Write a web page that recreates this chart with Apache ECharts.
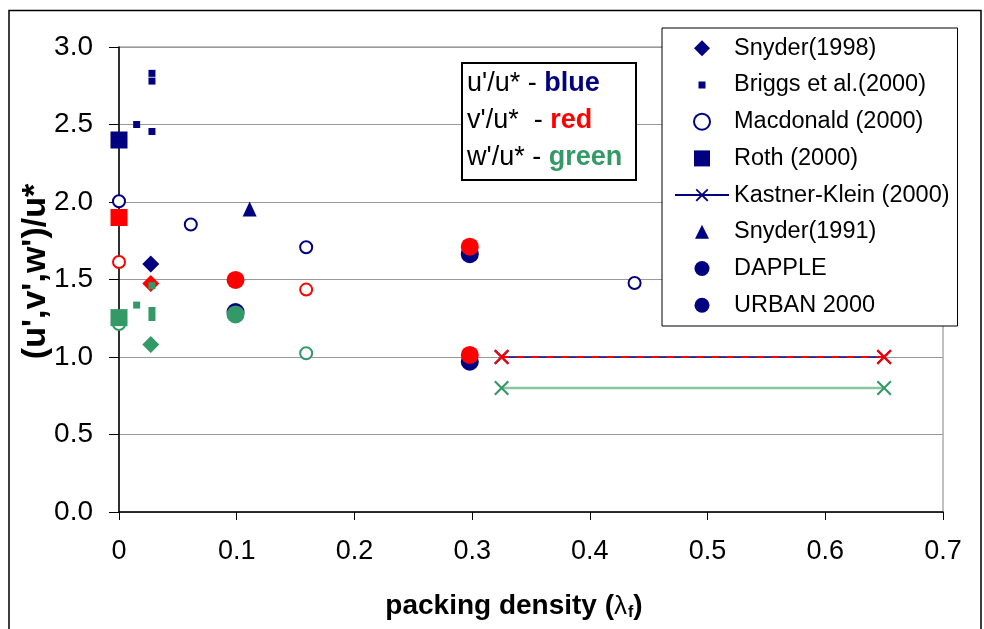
<!DOCTYPE html>
<html><head><meta charset="utf-8">
<script src="https://cdn.jsdelivr.net/npm/echarts@6/dist/echarts.min.js"></script>
<style>html,body{margin:0;padding:0;background:#fff;}#c{width:984px;height:629px;}</style>
</head><body><div id="c"></div>
<script>
// ---- data (x = packing density, y = normalized turbulence) ----
const xTickLabels = ['0', '0.1', '0.2', '0.3', '0.4', '0.5', '0.6', '0.7'];
const yTickLabels = ['0.0', '0.5', '1.0', '1.5', '2.0', '2.5', '3.0'];
const legendNames = ['Snyder(1998)', 'Briggs et al.(2000)', 'Macdonald (2000)', 'Roth (2000)',
  'Kastner-Klein (2000)', 'Snyder(1991)', 'DAPPLE', 'URBAN 2000'];

const snyder1998_u = [[0.027, 1.60]];
const snyder1998_v = [[0.027, 1.475]];
const snyder1998_w = [[0.027, 1.08]];
const briggs_u = [[0.028, 2.83], [0.028, 2.78], [0.015, 2.50], [0.028, 2.455]];
const briggs_w = [[0.028, 1.46], [0.015, 1.335], [0.028, 1.30], [0.028, 1.255]];
const macdonald_u = [[0, 2.005], [0.061, 1.855], [0.159, 1.708], [0.438, 1.477]];
const macdonald_v = [[0, 1.613], [0.159, 1.435]];
const macdonald_w = [[0, 1.213], [0.159, 1.024]];
const roth_u = [[0, 2.40]];
const roth_v = [[0, 1.90]];
const roth_w = [[0, 1.254]];
const kastner_u = [[0.325, 1.0], [0.65, 1.0]];
const kastner_v = [[0.325, 1.0], [0.65, 1.0]];
const kastner_w = [[0.325, 0.80], [0.65, 0.80]];
const snyder1991_u = [[0.111, 1.955]];
const dapple_u = [[0.298, 1.663], [0.298, 0.97]];
const dapple_v = [[0.298, 1.712], [0.298, 1.013]];
const urban_u = [[0.099, 1.29]];
const urban_v = [[0.099, 1.497]];
const urban_w = [[0.099, 1.275]];

// ---- styling ----
const BLUE = '#000080', RED = '#FF0000', GREEN = '#339966';
const FONT = '"Liberation Sans", Arial, sans-serif';
const XSYM = 'path://M2,0 L10,8 L18,0 L20,2 L12,10 L20,18 L18,20 L10,12 L2,20 L0,18 L8,10 L0,2 Z';
// legend icons padded to the 54x16 legend item box so they are not stretched
const LG_DIAMOND = 'path://M0,0M54,16M27,-0.5L35.5,8L27,16.5L18.5,8Z';
const LG_SMALLSQ = 'path://M0,0M54,16M23.5,4.5L30.5,4.5L30.5,11.5L23.5,11.5Z';
const LG_SQUARE = 'path://M0,0M54,16M18.5,-0.5L35.5,-0.5L35.5,16.5L18.5,16.5Z';
const LG_TRIANGLE = 'path://M0,0M54,16M27,1L34,15L20,15Z';
const LG_DOT = 'path://M0,0M54,16M27,0.5A7.5,7.5 0 1 1 26.99,0.5Z';

function sc(name, data, symbol, size, color) {
  return { type: 'scatter', name: name, data: data, symbol: symbol, symbolSize: size,
    itemStyle: { color: color, opacity: 1 }, emphasis: { disabled: true } };
}
function ln(name, data, color, lineStyle) {
  return { type: 'line', name: name, data: data, symbol: XSYM, symbolSize: 15, showSymbol: true,
    itemStyle: { color: color }, lineStyle: lineStyle, emphasis: { disabled: true } };
}

const series = [
  // u'/u*  (blue) - these carry the legend styles
  sc(legendNames[0], snyder1998_u, 'diamond', 17, BLUE),
  sc(legendNames[1], briggs_u, 'rect', 7, BLUE),
  sc(legendNames[2], macdonald_u, 'emptyCircle', 12, BLUE),
  sc(legendNames[3], roth_u, 'rect', 17, BLUE),
  ln(legendNames[4], kastner_u, BLUE, { color: BLUE, width: 1.5 }),
  sc(legendNames[5], snyder1991_u, 'triangle', [14, 15], BLUE),
  sc(legendNames[6], dapple_u, 'circle', 18, BLUE),
  sc(legendNames[7], urban_u, 'circle', 18, BLUE),
  // v'/u* (red)
  sc(legendNames[0], snyder1998_v, 'diamond', 17, RED),
  sc(legendNames[2], macdonald_v, 'emptyCircle', 12, RED),
  sc(legendNames[3], roth_v, 'rect', 17, RED),
  ln(legendNames[4], kastner_v, RED, { color: RED, width: 2, type: [7, 8] }),
  sc(legendNames[6], dapple_v, 'circle', 18, RED),
  sc(legendNames[7], urban_v, 'circle', 18, RED),
  // w'/u* (green)
  sc(legendNames[0], snyder1998_w, 'diamond', 17, GREEN),
  sc(legendNames[1], briggs_w, 'rect', 7, GREEN),
  sc(legendNames[2], macdonald_w, 'emptyCircle', 12, GREEN),
  sc(legendNames[3], roth_w, 'rect', 17, GREEN),
  ln(legendNames[4], kastner_w, GREEN, { color: '#86c7a0', width: 2.5 }),
  sc(legendNames[7], urban_w, 'circle', 18, GREEN)
];

const legendIcons = [LG_DIAMOND, LG_SMALLSQ, null, LG_SQUARE, null, LG_TRIANGLE, LG_DOT, LG_DOT];
const legendData = legendNames.map((n, i) => legendIcons[i] ? { name: n, icon: legendIcons[i] } : { name: n });

const chart = echarts.init(document.getElementById('c'), null, { renderer: 'canvas' });
chart.setOption({
  animation: false,
  backgroundColor: '#fff',
  graphic: [{ type: 'rect', z: -10, silent: true,
    shape: { x: 9, y: 10.5, width: 972, height: 660 },
    style: { fill: 'none', stroke: '#000', lineWidth: 1.5 } }],
  title: {
    left: 462, top: 63,
    padding: [2, 14, 4, 5],
    borderColor: '#000', borderWidth: 2, backgroundColor: '#fff',
    text: "{n|u'/u* - }{b|blue}\n{n|v'/u*  - }{r|red}\n{n|w'/u* - }{g|green}",
    textStyle: {
      fontFamily: FONT, fontSize: 27, fontWeight: 'normal', color: '#000', lineHeight: 37,
      rich: {
        n: { fontFamily: FONT, fontSize: 27, color: '#000', lineHeight: 37 },
        b: { fontFamily: FONT, fontSize: 27, fontWeight: 'bold', color: BLUE, lineHeight: 37 },
        r: { fontFamily: FONT, fontSize: 27, fontWeight: 'bold', color: RED, lineHeight: 37 },
        g: { fontFamily: FONT, fontSize: 27, fontWeight: 'bold', color: GREEN, lineHeight: 37 }
      }
    }
  },
  legend: {
    data: legendData,
    orient: 'vertical',
    left: 662, top: 28,
    padding: [8.3, 8, 8.8, 12],
    itemWidth: 54, itemHeight: 16, itemGap: 12.7,
    borderColor: '#000', borderWidth: 1, backgroundColor: '#fff',
    selectedMode: false,
    textStyle: { fontFamily: FONT, fontSize: 23.5, color: '#000', lineHeight: 24 }
  },
  grid: { left: 119, right: 41, top: 47, bottom: 117, show: true,
    borderColor: '#808080', borderWidth: 1, backgroundColor: 'transparent' },
  xAxis: {
    type: 'value', min: 0, max: 0.7, interval: 0.1,
    name: '{b|packing density (}{l|λ}{s|f}{b|)}',
    nameLocation: 'middle', nameGap: 80, nameMoveOverlap: false,
    nameTextStyle: {
      padding: [0, 34, 0, 0],
      rich: {
        b: { fontFamily: FONT, fontSize: 28, fontWeight: 'bold', color: '#000' },
        l: { fontFamily: FONT, fontSize: 26, fontWeight: 'normal', color: '#000' },
        s: { fontFamily: FONT, fontSize: 16, fontWeight: 'bold', color: '#000', padding: [13, 0, 0, 1] }
      }
    },
    axisLine: { lineStyle: { color: '#000', width: 1.5 } },
    axisTick: { show: true, inside: false, length: 8, lineStyle: { color: '#000', width: 1 } },
    splitLine: { show: false },
    axisLabel: { margin: 26, fontFamily: FONT, fontSize: 27, color: '#000',
      formatter: v => xTickLabels[Math.round(v * 10)] }
  },
  yAxis: {
    type: 'value', min: 0, max: 3, interval: 0.5,
    name: "(u',v',w')/u*",
    nameLocation: 'middle', nameGap: 66, nameRotate: 90, nameMoveOverlap: false,
    nameTextStyle: { fontFamily: FONT, fontSize: 34, fontWeight: 'bold', color: '#000',
      padding: [0, 0, 0, 16] },
    axisLine: { show: true, lineStyle: { color: '#000', width: 1.5 } },
    axisTick: { show: true, inside: false, length: 10, lineStyle: { color: '#000', width: 1 } },
    splitLine: { show: true, lineStyle: { color: '#999', width: 1 } },
    axisLabel: { margin: 26, fontFamily: FONT, fontSize: 28, color: '#000',
      formatter: v => yTickLabels[Math.round(v * 2)] }
  },
  series: series
});
</script></body></html>
